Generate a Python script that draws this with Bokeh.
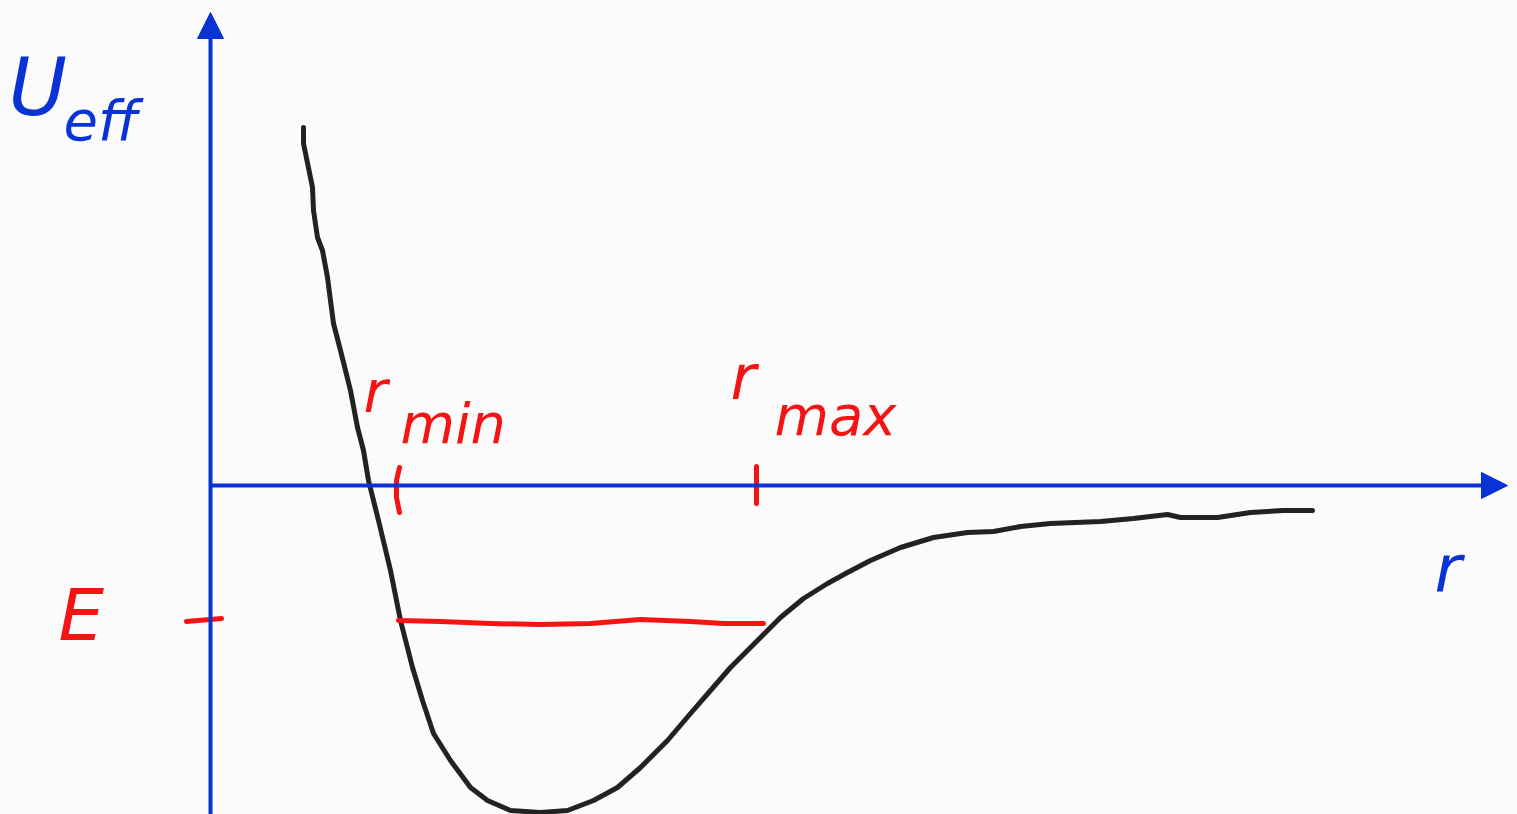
from bokeh.plotting import figure
from bokeh.models import Arrow, NormalHead, Range1d
from bokeh.core.properties import value
from bokeh.embed import file_html
from bokeh.resources import INLINE

# Effective potential sketch: U_eff(r) with a bound energy level E
r_curve = [0.93, 0.93, 1.02, 1.03, 1.07, 1.12, 1.17, 1.23, 1.30, 1.40, 1.47, 1.53,
           1.58, 1.68, 1.80, 1.90, 2.02, 2.12, 2.23, 2.40, 2.60, 2.77, 3.00, 3.30,
           3.57, 3.83, 4.07, 4.30, 4.57, 4.80, 5.00, 5.20, 5.50, 5.70, 5.93, 6.17,
           6.37, 6.60, 6.90, 7.23, 7.57, 7.83, 8.10, 8.40, 8.90, 9.23, 9.57, 9.70,
           10.07, 10.40, 10.73, 11.02]
u_curve = [3.58, 3.42, 2.98, 2.75, 2.48, 2.35, 2.08, 1.62, 1.35, 0.95, 0.58, 0.35,
           0.05, -0.35, -0.85, -1.35, -1.82, -2.15, -2.48, -2.75, -3.02, -3.15, -3.25, -3.27,
           -3.25, -3.15, -3.02, -2.82, -2.55, -2.28, -2.05, -1.82, -1.52, -1.32, -1.13, -0.98,
           -0.87, -0.75, -0.62, -0.52, -0.47, -0.46, -0.41, -0.38, -0.36, -0.33, -0.29, -0.32,
           -0.32, -0.27, -0.25, -0.25]

energy = -1.34
r_min = 1.88
r_max = 5.46
energy_r = [1.88, 2.30, 2.80, 3.30, 3.80, 4.30, 4.80, 5.13, 5.53]
energy_u = [-1.35, -1.36, -1.38, -1.39, -1.38, -1.34, -1.36, -1.38, -1.38]

r_axis_end = 12.97
u_axis_top = 4.73
u_axis_bottom = -3.29

BLUE = "#0a33d6"
RED = "#f51414"
INK = "#222222"

p = figure(width=1517, height=814, output_backend="svg", toolbar_location=None,
           x_range=Range1d(-2.10, 13.07), y_range=Range1d(-3.29, 4.85),
           min_border=0, background_fill_color="#fbfbfb", border_fill_color="#fbfbfb")
p.axis.visible = False
p.grid.visible = False
p.outline_line_color = None

# coordinate axes with arrow heads
p.add_layout(Arrow(end=NormalHead(size=26, fill_color=BLUE, line_color=BLUE),
                   x_start=0, y_start=u_axis_bottom, x_end=0, y_end=u_axis_top,
                   line_color=BLUE, line_width=4))
p.add_layout(Arrow(end=NormalHead(size=26, fill_color=BLUE, line_color=BLUE),
                   x_start=0, y_start=0, x_end=r_axis_end, y_end=0,
                   line_color=BLUE, line_width=4))

# potential curve
p.line(r_curve, u_curve, line_color=INK, line_width=5, line_cap="round", line_join="round")

# energy level and turning points
p.line(energy_r, energy_u, line_color=RED, line_width=5, line_cap="round", line_join="round")
p.segment(x0=[-0.24], y0=[energy - 0.02], x1=[0.11], y1=[energy + 0.01],
          line_color=RED, line_width=5, line_cap="round")
p.line([r_min + 0.01, r_min - 0.02, r_min - 0.02, r_min + 0.01], [0.18, 0.05, -0.12, -0.27],
       line_color=RED, line_width=5, line_cap="round", line_join="round")
p.segment(x0=[r_max], y0=[0.19], x1=[r_max], y1=[-0.18],
          line_color=RED, line_width=5, line_cap="round")

# labels
font = value("DejaVu Sans")
p.text(x=[-2.02], y=[4.45], text=["U"], text_font=font, text_font_style="italic",
       text_font_size="80px", text_color=BLUE, text_baseline="top")
p.text(x=[-1.47], y=[3.98], text=["eff"], text_font=font, text_font_style="italic",
       text_font_size="56px", text_color=BLUE, text_baseline="top")
p.text(x=[12.24], y=[-0.45], text=["r"], text_font=font, text_font_style="italic",
       text_font_size="66px", text_color=BLUE, text_baseline="top")
p.text(x=[-1.52], y=[-0.87], text=["E"], text_font=font, text_font_style="italic",
       text_font_size="72px", text_color=RED, text_baseline="top")
p.text(x=[1.53], y=[1.28], text=["r"], text_font=font, text_font_style="italic",
       text_font_size="58px", text_color=RED, text_baseline="top")
p.text(x=[1.90], y=[0.95], text=["min"], text_font=font, text_font_style="italic",
       text_font_size="56px", text_color=RED, text_baseline="top")
p.text(x=[5.20], y=[1.45], text=["r"], text_font=font, text_font_style="italic",
       text_font_size="62px", text_color=RED, text_baseline="top")
p.text(x=[5.64], y=[1.03], text=["max"], text_font=font, text_font_style="italic",
       text_font_size="56px", text_color=RED, text_baseline="top")

open("out.html", "w").write(file_html(p, INLINE))
